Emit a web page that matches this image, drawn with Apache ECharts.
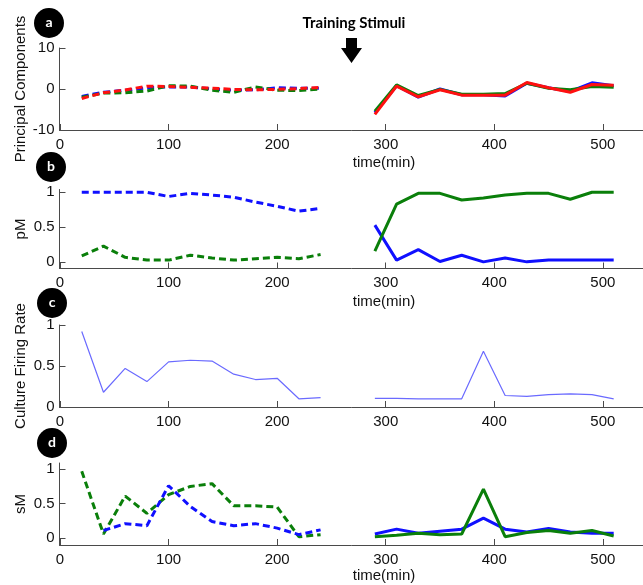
<!DOCTYPE html>
<html>
<head>
<meta charset="utf-8">
<script src="https://cdn.jsdelivr.net/npm/echarts@6/dist/echarts.min.js"></script>
<style>
  html, body { margin: 0; padding: 0; background: #fff; }
  #chart { width: 643px; height: 585px; }
</style>
</head>
<body>
<div id="chart"></div>
<script>
// time points (min) before / after training
const tPre = [20, 40, 60, 80, 100, 120, 140, 160, 180, 200, 220, 240];
const tPost = [290, 310, 330, 350, 370, 390, 410, 430, 450, 470, 490, 510];
const xTicks = [0, 100, 200, 300, 400, 500];

// a - principal components
const pcBluePre = [-1.8, -0.8, -0.3, 0.3, 0.5, 0.5, 0.0, -0.3, -0.2, 0.3, 0.2, 0.2];
const pcGreenPre = [-2.0, -1.0, -0.9, -0.5, 0.8, 0.7, -0.3, -0.8, 0.5, -0.3, -0.4, 0.0];
const pcRedPre = [-2.3, -0.9, -0.25, 0.7, 0.6, 0.4, 0.2, -0.1, -0.2, -0.1, 0.1, 0.4];
const pcBluePost = [-5.8, 0.8, -2.0, 0.0, -1.4, -1.4, -1.7, 1.4, 0.3, -0.6, 1.5, 0.8];
const pcGreenPost = [-5.4, 1.0, -1.6, -0.1, -1.3, -1.3, -1.1, 1.4, 0.2, -0.2, 0.6, 0.4];
const pcRedPost = [-6.2, 0.7, -1.9, -0.2, -1.5, -1.5, -1.5, 1.6, 0.3, -0.8, 1.1, 0.9];
const pcTicks = [-10, 0, 10];

// b - pM
const pmBluePre = [1.0, 1.0, 1.0, 1.0, 0.94, 0.985, 0.96, 0.93, 0.86, 0.80, 0.73, 0.77];
const pmGreenPre = [0.09, 0.23, 0.07, 0.03, 0.03, 0.10, 0.06, 0.03, 0.05, 0.07, 0.05, 0.11];
const pmBluePost = [0.53, 0.03, 0.18, 0.01, 0.10, 0.005, 0.06, 0.005, 0.03, 0.03, 0.03, 0.03];
const pmGreenPost = [0.16, 0.83, 0.985, 0.985, 0.89, 0.92, 0.96, 0.985, 0.985, 0.90, 1.0, 1.0];
const unitTicks = [0, 0.5, 1];

// c - culture firing rate
const ratePre = [0.92, 0.18, 0.47, 0.31, 0.55, 0.57, 0.56, 0.40, 0.335, 0.35, 0.10, 0.115];
const ratePost = [0.105, 0.105, 0.10, 0.10, 0.10, 0.68, 0.14, 0.13, 0.15, 0.16, 0.15, 0.10];

// d - sM (blue starts at 40 min)
const smGreenPre = [0.97, 0.06, 0.61, 0.36, 0.63, 0.75, 0.79, 0.47, 0.47, 0.45, 0.02, 0.05];
const smBluePre = [null, 0.11, 0.21, 0.18, 0.76, 0.46, 0.24, 0.18, 0.21, 0.145, 0.05, 0.12];
const smGreenPost = [0.02, 0.04, 0.07, 0.05, 0.06, 0.71, 0.02, 0.08, 0.11, 0.07, 0.11, 0.03];
const smBluePost = [0.06, 0.13, 0.07, 0.10, 0.13, 0.29, 0.13, 0.09, 0.14, 0.09, 0.07, 0.07];

const BLUE = "#1010ff", GREEN = "#0a7f0a", RED = "#ff1010", LIGHT = "#6a6aff";
const AX = "#4a4a4a";
const FONT = "Liberation Sans, Arial, sans-serif";

const pairs = (ts, vs) => ts.map((t, i) => [t, vs[i]]).filter(p => p[1] !== null);

function line(idx, ts, vs, color, dashed, width) {
    return {
        type: "line",
        xAxisIndex: idx,
        yAxisIndex: idx,
        data: pairs(ts, vs),
        symbol: "none",
        silent: true,
        lineStyle: { color: color, width: width, type: dashed ? [7, 4] : "solid" },
    };
}

// x axis starts a hair below 0 so the "0" label is not treated as the min label
const grids = [
    { left: 59.5, top: 48, width: 583.5, height: 82 },
    { left: 59.5, top: 189.5, width: 583.5, height: 79 },
    { left: 59.5, top: 325, width: 583.5, height: 82 },
    { left: 59.5, top: 463, width: 583.5, height: 82 },
];
const yRanges = [[-10, 10, pcTicks], [-0.09, 1.04, unitTicks], [0, 1, unitTicks], [-0.1, 1.09, unitTicks]];
const yNames = ["Principal Components", "pM", "Culture Firing Rate", "sM"];

const xAxes = grids.map((g, i) => ({
    type: "value",
    gridIndex: i,
    min: -0.5,
    max: 537,
    axisLine: { onZero: false, lineStyle: { color: AX, width: 1 } },
    axisTick: { inside: true, length: 6, customValues: xTicks, lineStyle: { color: AX } },
    axisLabel: {
        customValues: xTicks, showMinLabel: true, hideOverlap: false,
        color: "#111", fontSize: 15, fontFamily: FONT, margin: 7,
    },
    splitLine: { show: false },
}));

const yAxes = grids.map((g, i) => ({
    type: "value",
    gridIndex: i,
    min: yRanges[i][0],
    max: yRanges[i][1],
    name: yNames[i],
    nameLocation: "middle",
    nameGap: 31,
    nameMoveOverlap: false,
    nameTextStyle: { color: "#111", fontSize: 15, fontFamily: FONT },
    axisLine: { show: true, onZero: false, lineStyle: { color: AX, width: 1 } },
    axisTick: { show: true, inside: true, length: 6, customValues: yRanges[i][2], lineStyle: { color: AX } },
    axisLabel: { customValues: yRanges[i][2], color: "#111", fontSize: 15, fontFamily: FONT, margin: 5 },
    splitLine: { show: false },
}));

const series = [
    line(0, tPre, pcBluePre, BLUE, true, 3),
    line(0, tPre, pcGreenPre, GREEN, true, 3),
    line(0, tPre, pcRedPre, RED, true, 3),
    line(0, tPost, pcBluePost, BLUE, false, 3),
    line(0, tPost, pcGreenPost, GREEN, false, 3),
    line(0, tPost, pcRedPost, RED, false, 3),
    line(1, tPre, pmBluePre, BLUE, true, 3),
    line(1, tPre, pmGreenPre, GREEN, true, 3),
    line(1, tPost, pmBluePost, BLUE, false, 3),
    line(1, tPost, pmGreenPost, GREEN, false, 3),
    line(2, tPre, ratePre, LIGHT, false, 1.2),
    line(2, tPost, ratePost, LIGHT, false, 1.2),
    line(3, tPre, smGreenPre, GREEN, true, 3),
    line(3, tPre, smBluePre, BLUE, true, 3),
    line(3, tPost, smBluePost, BLUE, false, 3),
    line(3, tPost, smGreenPost, GREEN, false, 3),
];

function badge(letter, x, y) {
    return {
        type: "group",
        x: x,
        y: y,
        children: [
            { type: "circle", shape: { cx: 0, cy: 0, r: 15 }, style: { fill: "#000" } },
            {
                type: "text",
                style: {
                    text: letter, x: 0, y: -1, align: "center", verticalAlign: "middle",
                    fill: "#fff", font: "bold 14px Lato, sans-serif",
                },
            },
        ],
    };
}

function timeLabel(y) {
    return {
        type: "text",
        style: {
            text: "time(min)", x: 384, y: y, align: "center", verticalAlign: "middle",
            fill: "#111", font: "15px " + FONT,
        },
    };
}

const chart = echarts.init(document.getElementById("chart"), null, { renderer: "canvas" });
chart.setOption({
    animation: false,
    grid: grids,
    xAxis: xAxes,
    yAxis: yAxes,
    series: series,
    graphic: [
        badge("a", 49, 23),
        badge("b", 51, 167),
        badge("c", 52, 303),
        badge("d", 52, 443),
        timeLabel(163),
        timeLabel(302),
        timeLabel(576),
        {
            type: "text",
            style: {
                text: "Training Stimuli", x: 354, y: 23, align: "center", verticalAlign: "middle",
                fill: "#000", font: "bold 15px Lato, sans-serif",
            },
        },
        {
            type: "polygon",
            shape: { points: [[346, 38], [357, 38], [357, 48], [362, 48], [351.5, 63], [341, 48], [346, 48]] },
            style: { fill: "#000" },
        },
    ],
});
</script>
</body>
</html>
